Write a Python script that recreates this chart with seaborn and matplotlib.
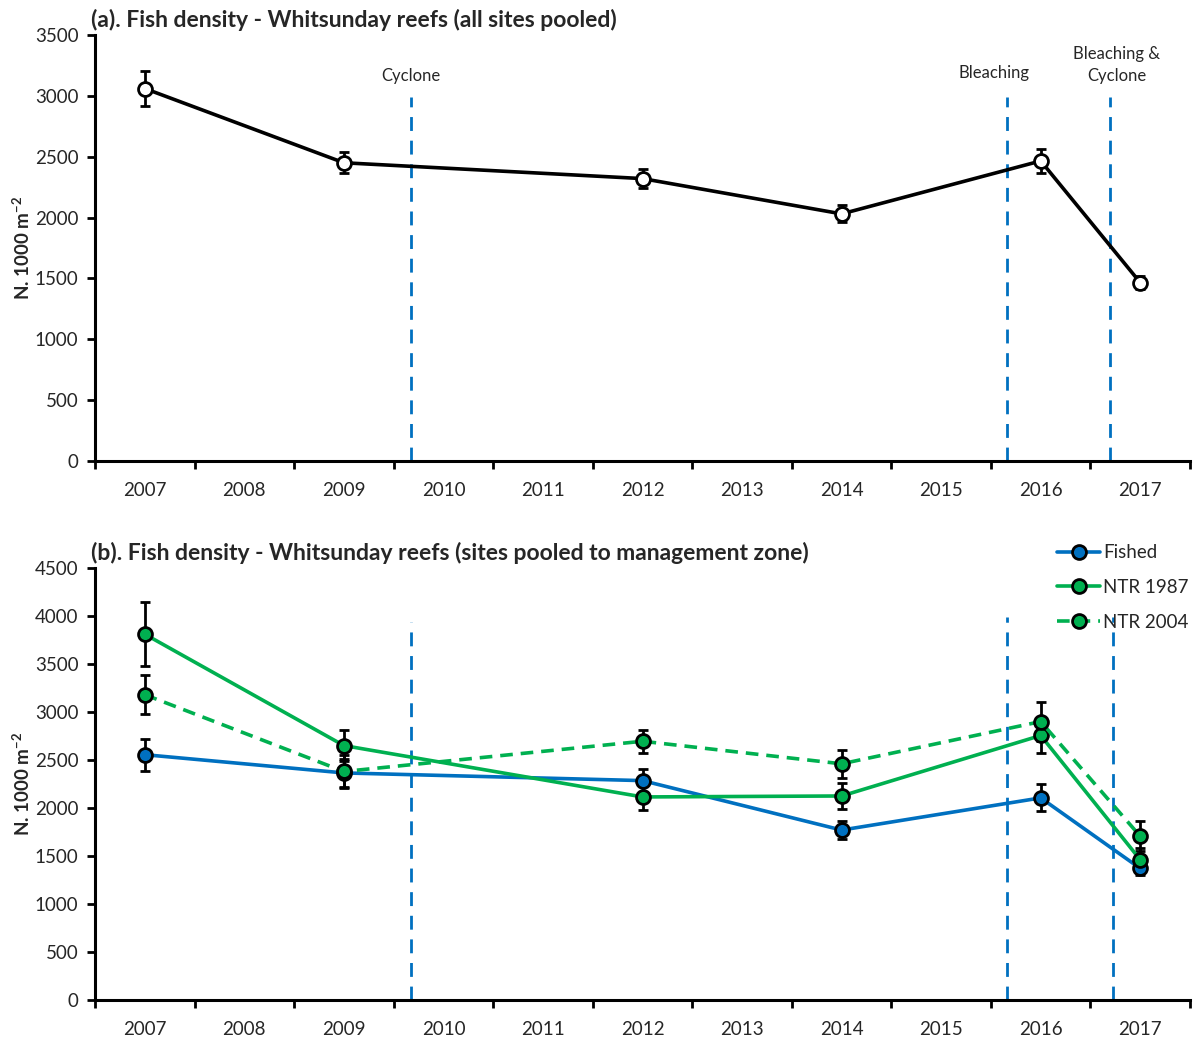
import numpy as np
import pandas as pd
import matplotlib
matplotlib.use("Agg")
import matplotlib.pyplot as plt
import seaborn as sns
from matplotlib.lines import Line2D

# Category axis: every calendar year, surveys only in some of them
years = ["2007", "2008", "2009", "2010", "2011", "2012", "2013", "2014", "2015", "2016", "2017"]
survey_years = ["2007", "2009", "2012", "2014", "2016", "2017"]

# (a) all sites pooled
pooled_mean = [3060, 2450, 2320, 2030, 2465, 1465]
pooled_se = [140, 85, 80, 70, 95, 55]

# (b) sites pooled to management zone
zones = ["Fished", "NTR 1987", "NTR 2004"]
fished_mean = [2555, 2365, 2285, 1770, 2105, 1370]
fished_se = [165, 150, 125, 90, 140, 70]
ntr1987_mean = [3810, 2650, 2115, 2125, 2755, 1460]
ntr1987_se = [335, 165, 140, 140, 185, 120]
ntr2004_mean = [3180, 2380, 2695, 2460, 2900, 1705]
ntr2004_se = [200, 170, 120, 145, 200, 155]

# Disturbance events, in category-axis units (between survey years)
event_labels = ["Cyclone", "Bleaching", "Bleaching &\nCyclone"]
event_pos = [2.67, 8.66, 9.70]

BLUE = "#0070C0"
GREEN = "#00B050"

sns.set_theme(style="white")
plt.rcParams["font.family"] = ["Lato", "DejaVu Sans"]
plt.rcParams["mathtext.fontset"] = "custom"
plt.rcParams["mathtext.rm"] = "Lato"
plt.rcParams["mathtext.bf"] = "Lato:bold"

pos = [years.index(y) for y in survey_years]

fig = plt.figure(figsize=(12, 10.41), dpi=100)
ax_a = fig.add_axes([0.0792, 0.5572, 0.9125, 0.4092])
ax_b = fig.add_axes([0.0792, 0.0394, 0.9125, 0.4150])


def style_axis(ax, ymax, step):
    ax.set_xlim(-0.5, len(years) - 0.5)
    ax.set_ylim(0, ymax)
    ax.set_yticks(np.arange(0, ymax + 1, step))
    ax.set_xticks(np.arange(-0.5, len(years), 1.0))
    ax.set_xticklabels([])
    ax.set_xticks(np.arange(len(years)), minor=True)
    ax.set_xticklabels(years, minor=True)
    ax.tick_params(axis="x", which="major", direction="out", length=6, width=2, color="black", bottom=True)
    ax.tick_params(axis="x", which="minor", length=0, pad=15, labelsize=13.5, bottom=True)
    ax.tick_params(axis="y", direction="out", length=6, width=2, color="black", labelsize=13.5, left=True, pad=6)
    for s in ["top", "right"]:
        ax.spines[s].set_visible(False)
    for s in ["left", "bottom"]:
        ax.spines[s].set_color("black")
        ax.spines[s].set_linewidth(2.2)
    ax.grid(False)
    ax.set_xlabel("")
    ax.set_ylabel(r"N. 1000 m$^{\mathbf{-2}}$", fontsize=13.5, fontweight="bold", labelpad=1)


# ---- (a) pooled ----
df_a = pd.DataFrame({"pos": pos, "density": pooled_mean})
ax_a.errorbar(pos, pooled_mean, yerr=pooled_se, fmt="none", ecolor="black",
              elinewidth=2, capsize=3.5, capthick=2, zorder=3)
sns.lineplot(data=df_a, x="pos", y="density", ax=ax_a, color="black", linewidth=2.6,
             marker="o", markersize=10, markerfacecolor="white", markeredgecolor="black",
             markeredgewidth=2, zorder=4)
style_axis(ax_a, 3500, 500)
for p in event_pos:
    ax_a.plot([p, p], [0, 2990], color=BLUE, lw=2, ls=(0, (5, 3.5)), zorder=2)
ax_a.text(event_pos[0], 3160, event_labels[0], ha="center", va="center", fontsize=12)
ax_a.text(event_pos[1] - 0.13, 3185, event_labels[1], ha="center", va="center", fontsize=12)
ax_a.text(event_pos[2] + 0.06, 3255, event_labels[2], ha="center", va="center", fontsize=12,
          linespacing=1.45)
ax_a.set_title("(a). Fish density - Whitsunday reefs (all sites pooled)", loc="left",
               fontsize=16.5, fontweight="bold", x=-0.004, y=1.0, pad=6)

# ---- (b) management zones ----
means = {"Fished": fished_mean, "NTR 1987": ntr1987_mean, "NTR 2004": ntr2004_mean}
ses = {"Fished": fished_se, "NTR 1987": ntr1987_se, "NTR 2004": ntr2004_se}
df_b = pd.concat([
    pd.DataFrame({"pos": pos, "density": means[z], "se": ses[z], "zone": z}) for z in zones
], ignore_index=True)

for z in zones:
    ax_b.errorbar(pos, means[z], yerr=ses[z], fmt="none", ecolor="black",
                  elinewidth=2, capsize=3.5, capthick=2, zorder=3)
palette = {"Fished": BLUE, "NTR 1987": GREEN, "NTR 2004": GREEN}
dashes = {"Fished": "", "NTR 1987": "", "NTR 2004": (3.5, 2.2)}
sns.lineplot(data=df_b, x="pos", y="density", hue="zone", style="zone", ax=ax_b,
             palette=palette, dashes=dashes, markers={z: "o" for z in zones},
             markersize=10, markeredgecolor="black", markeredgewidth=2,
             linewidth=2.6, legend=False, zorder=4)
style_axis(ax_b, 4500, 500)
ax_b.plot([event_pos[0], event_pos[0]], [0, 3940], color=BLUE, lw=2, ls=(0, (5, 3.5)), zorder=2)
ax_b.plot([event_pos[1], event_pos[1]], [0, 3990], color=BLUE, lw=2, ls=(0, (5, 3.5)), zorder=2)
ax_b.plot([event_pos[2] + 0.03, event_pos[2] + 0.03], [0, 3990], color=BLUE, lw=2, ls=(0, (5, 3.5)), zorder=2)
ax_b.set_title("(b). Fish density - Whitsunday reefs (sites pooled to management zone)", loc="left",
               fontsize=16.5, fontweight="bold", x=-0.004, y=1.0, pad=6)

handles = [
    Line2D([], [], color=BLUE, lw=2.6, marker="o", markersize=10,
           markerfacecolor=BLUE, markeredgecolor="black", markeredgewidth=2),
    Line2D([], [], color=GREEN, lw=2.6, marker="o", markersize=10,
           markerfacecolor=GREEN, markeredgecolor="black", markeredgewidth=2),
    Line2D([], [], color=GREEN, lw=2.6, ls=(0, (3.5, 2.2)), marker="o", markersize=10,
           markerfacecolor=GREEN, markeredgecolor="black", markeredgewidth=2),
]
fig.legend(handles, zones, loc="upper right", bbox_to_anchor=(1.0, 0.488), frameon=False,
           fontsize=13.5, handlelength=2.3, handletextpad=0.15, labelspacing=0.95,
           borderaxespad=0.2)

fig.savefig("out.png", dpi=100)
